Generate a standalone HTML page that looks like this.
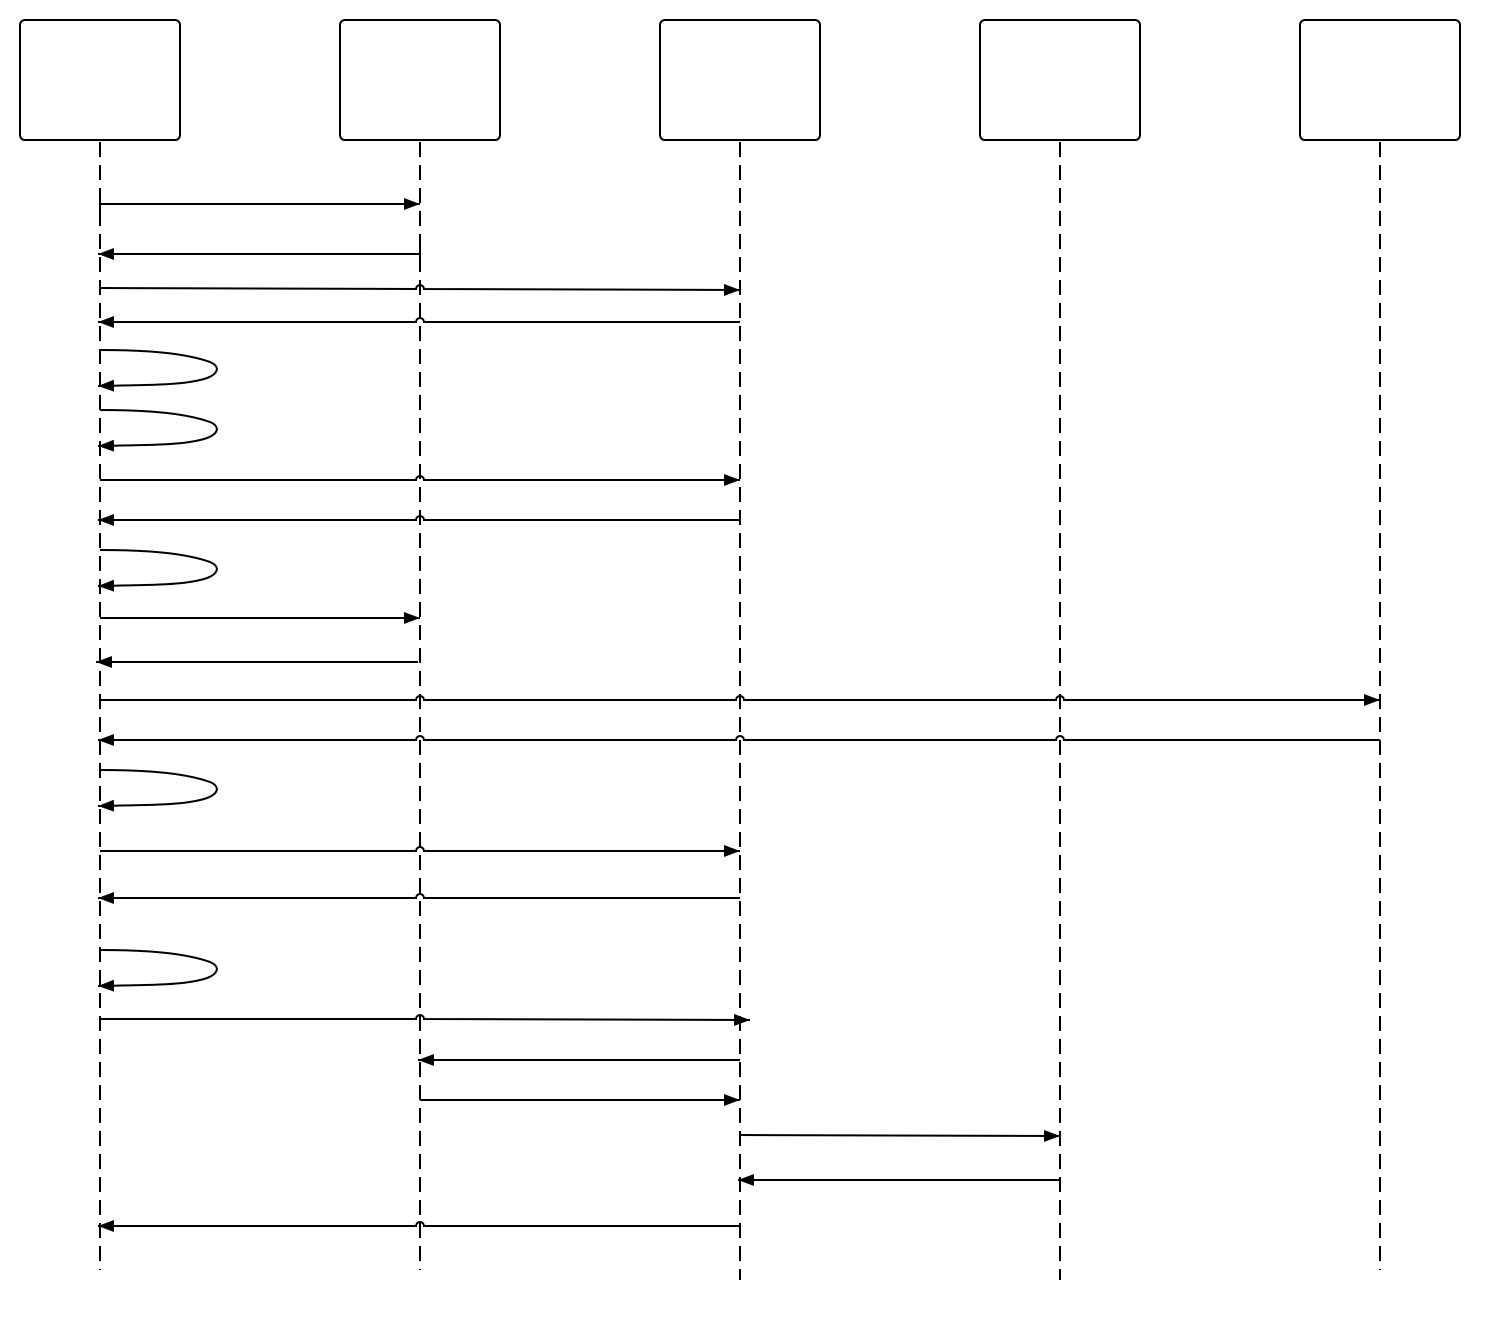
<!DOCTYPE html>
<html><head><meta charset="utf-8"><style>
html,body{margin:0;padding:0;background:#fff;}
svg{display:block;}
</style></head><body>
<svg width="1500" height="1320" viewBox="0 0 1500 1320" xmlns="http://www.w3.org/2000/svg">
<defs>
<marker id="a" markerUnits="userSpaceOnUse" markerWidth="16" markerHeight="12" refX="16" refY="6" orient="auto">
<path d="M0,0 L16,6 L0,12 z" fill="#000"/>
</marker>
</defs>
<g fill="#fff" stroke="#000" stroke-width="2">
<rect x="20" y="20" width="160" height="120" rx="5"/>
<rect x="340" y="20" width="160" height="120" rx="5"/>
<rect x="660" y="20" width="160" height="120" rx="5"/>
<rect x="980" y="20" width="160" height="120" rx="5"/>
<rect x="1300" y="20" width="160" height="120" rx="5"/>
</g>
<g stroke="#000" stroke-width="2" stroke-dasharray="15,8" fill="none">
<line x1="100" y1="142" x2="100" y2="1270"/>
<line x1="420" y1="142" x2="420" y2="1270"/>
<line x1="740" y1="142" x2="740" y2="1280"/>
<line x1="1060" y1="142" x2="1060" y2="1280"/>
<line x1="1380" y1="142" x2="1380" y2="1270"/>
</g>
<g stroke="#000" stroke-width="2" fill="none" marker-end="url(#a)">
<path d="M100,204 L420,204"/>
<path d="M420,254 L98,254"/>
<path d="M100,288 L416,289 A4,4 0 0 1 424,289 L740,290"/>
<path d="M740,322 L424,322 A4,4 0 0 0 416,322 L98,322"/>
<path d="M100,350 C160,350 190,355 210,362 C222,367 218,376 200,380 C180,385 150,385 98,386"/>
<path d="M100,410 C160,410 190,415 210,422 C222,427 218,436 200,440 C180,445 150,445 98,446"/>
<path d="M100,480 L416,480 A4,4 0 0 1 424,480 L740,480"/>
<path d="M740,520 L424,520 A4,4 0 0 0 416,520 L98,520"/>
<path d="M100,550 C160,550 190,555 210,562 C222,567 218,576 200,580 C180,585 150,585 98,586"/>
<path d="M100,618 L420,618"/>
<path d="M418,662 L96,662"/>
<path d="M100,700 L416,700 A4,4 0 0 1 424,700 L736,700 A4,4 0 0 1 744,700 L1056,700 A4,4 0 0 1 1064,700 L1380,700"/>
<path d="M1380,740 L1064,740 A4,4 0 0 0 1056,740 L744,740 A4,4 0 0 0 736,740 L424,740 A4,4 0 0 0 416,740 L98,740"/>
<path d="M100,770 C160,770 190,775 210,782 C222,787 218,796 200,800 C180,805 150,805 98,806"/>
<path d="M100,851 L416,851 A4,4 0 0 1 424,851 L740,851"/>
<path d="M740,898 L424,898 A4,4 0 0 0 416,898 L98,898"/>
<path d="M100,950 C160,950 190,955 210,962 C222,967 218,976 200,980 C180,985 150,985 98,986"/>
<path d="M100,1019 L416,1019 A4,4 0 0 1 424,1019 L750,1020"/>
<path d="M740,1060 L418,1060"/>
<path d="M420,1100 L740,1100"/>
<path d="M740,1135 L1060,1136"/>
<path d="M1060,1180 L738,1180"/>
<path d="M740,1226 L424,1226 A4,4 0 0 0 416,1226 L98,1226"/>
</g>
<g stroke="#000" stroke-width="2">
<line x1="100" y1="196" x2="100" y2="212"/>
<line x1="420" y1="246" x2="420" y2="262"/>
</g>
</svg>
</body></html>
